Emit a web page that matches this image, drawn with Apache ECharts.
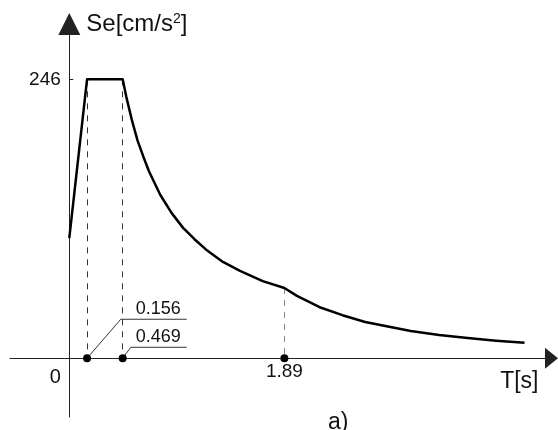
<!DOCTYPE html>
<html>
<head>
<meta charset="utf-8">
<script src="https://cdn.jsdelivr.net/npm/echarts@6/dist/echarts.min.js"></script>
<style>html,body{margin:0;padding:0;background:#fff}#c{width:558px;height:430px}</style>
</head>
<body>
<div id="c"></div>
<script>
// Periods T [s] and spectral acceleration Se [cm/s^2]
var periods  = [0, 0.156, 0.469, 0.5, 0.55, 0.6, 0.65, 0.7, 0.8, 0.9, 1.0, 1.1, 1.2, 1.35, 1.5, 1.7, 1.89, 2.0, 2.2, 2.4, 2.6, 2.8, 3.0, 3.25, 3.5, 3.75, 4.0];
var spectrum = [106, 246, 246, 231, 210, 192, 178, 165, 144, 128, 115, 105, 96, 85, 77, 68, 62, 55, 45, 38, 32, 28, 24, 20.6, 17.8, 15.5, 13.6];
// Marked corner periods and their spectral values
var cornerPeriods = [0.156, 0.469, 1.89];
var cornerValues  = [246, 246, 62];
// Y tick value
var yTicks = [246];

var FONT = 'Liberation Sans, Arial, sans-serif';
var INK = '#111';
var CLEAR = 'rgba(0,0,0,0)';

var curve = periods.map(function (t, i) { return [t, spectrum[i]]; });

// leader annotation geometry (data coordinates) for the two small labels
var leaderBend = [[0.452, 34.4], [0.540, 9.7]];
var leaderEndT = 1.032;
var leaderLabelT = 0.7825;

var leaderSeries = [0, 1].map(function (k) {
  return {
    type: 'line', silent: true, symbol: 'none', z: 3,
    lineStyle: { color: '#333', width: 1 },
    data: [[cornerPeriods[k], 0], leaderBend[k], [leaderEndT, leaderBend[k][1]]]
  };
});

function textSeries(points, label) {
  return {
    type: 'scatter', symbol: 'circle', symbolSize: 1, z: 7, silent: true,
    itemStyle: { color: CLEAR, opacity: 1 },
    data: points,
    label: Object.assign({ show: true, formatter: '{b}', fontFamily: FONT, color: INK }, label)
  };
}

var chart = echarts.init(document.getElementById('c'), null, { renderer: 'canvas' });
chart.setOption({
  animation: false,
  backgroundColor: '#fff',
  title: {
    text: 'a)', left: 323, top: 406,
    textStyle: { fontFamily: FONT, fontSize: 23, fontWeight: 'normal', color: INK }
  },
  grid: { left: 10, right: 6.5, top: 24, bottom: 13, containLabel: false, outerBoundsMode: 'none' },
  xAxis: {
    type: 'value', min: -0.521, max: 4.237,
    axisLine: { onZero: true, symbol: ['none', 'triangle'], symbolSize: [21, 13],
      lineStyle: { color: '#222', width: 1 } },
    axisTick: { show: false }, axisLabel: { show: false }, splitLine: { show: false },
    name: 'T[s]', nameLocation: 'end', nameGap: -13,
    nameTextStyle: { fontFamily: FONT, fontSize: 23, color: INK, align: 'right', verticalAlign: 'top', padding: [12, 0, 0, 0] }
  },
  yAxis: {
    type: 'value', min: -51.8, max: 294.8,
    axisLine: { onZero: true, symbol: ['none', 'triangle'], symbolSize: [22, 22],
      lineStyle: { color: '#222', width: 1 } },
    axisTick: { show: true, inside: true, length: 4, customValues: yTicks, lineStyle: { color: '#222' } },
    axisLabel: { show: false },
    splitLine: { show: false },
    name: '{m|Se[cm/s}{s|2}{m|]}', nameLocation: 'end', nameGap: 0,
    nameTextStyle: {
      align: 'left', verticalAlign: 'middle', padding: [0, 0, 0, 17],
      rich: {
        m: { fontFamily: FONT, fontSize: 24, color: INK },
        s: { fontFamily: FONT, fontSize: 14, color: INK, verticalAlign: 'top' }
      }
    }
  },
  series: [
    {
      type: 'line', data: curve, symbol: 'none', z: 5,
      lineStyle: { color: '#000', width: 2.5, join: 'round' },
      markLine: {
        silent: true, symbol: 'none', label: { show: false },
        data: cornerPeriods.map(function (t, i) {
          return [
            { coord: [t, cornerValues[i]], lineStyle: { color: i < 2 ? '#333' : '#888', type: [6, 6], width: 1 } },
            { coord: [t, 0] }
          ];
        })
      }
    },
    leaderSeries[0],
    leaderSeries[1],
    {
      type: 'scatter', symbolSize: 8, z: 6,
      itemStyle: { color: '#000', opacity: 1 },
      data: cornerPeriods.map(function (t, i) {
        return { value: [t, 0], label: { show: i === 2 } };
      }),
      label: {
        position: 'bottom', distance: 0, formatter: function (p) { return String(p.value[0]); },
        fontFamily: FONT, fontSize: 19, color: INK
      }
    },
    textSeries([
      { value: [leaderLabelT, leaderBend[0][1]], name: String(cornerPeriods[0]) },
      { value: [leaderLabelT, leaderBend[1][1]], name: String(cornerPeriods[1]) }
    ], { position: 'top', distance: 1, fontSize: 18 }),
    textSeries([{ value: [0, 0], name: '0' }],
      { position: 'bottom', distance: 9, offset: [-14, 0], fontSize: 20 }),
    textSeries(yTicks.map(function (v) { return { value: [0, v], name: String(v) }; }),
      { position: 'left', distance: 8, fontSize: 19 })
  ]
});
</script>
</body>
</html>
